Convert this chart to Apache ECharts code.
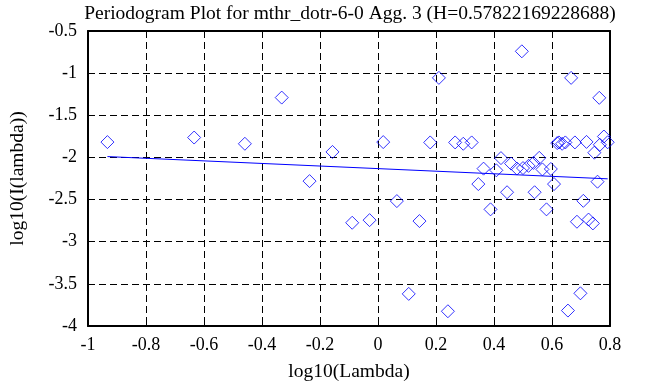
<!DOCTYPE html>
<html>
<head>
<meta charset="utf-8">
<script src="https://cdn.jsdelivr.net/npm/echarts@6/dist/echarts.min.js"></script>
<style>html,body{margin:0;padding:0;background:#fff}#c{width:663px;height:387px}</style>
</head>
<body>
<div id="c"></div>
<script>
const titleText = 'Periodogram Plot for mthr_dotr-6-0 Agg. 3 (H=0.57822169228688)';
const xLabel = 'log10(Lambda)';
const yLabel = 'log10(I(lambda))';
const logLambda = [-0.933,-0.634,-0.459,-0.332,-0.236,-0.157,-0.089,-0.029,0.018,0.065,0.106,0.143,0.180,0.210,0.241,0.266,0.294,0.323,0.346,0.364,0.388,0.408,0.424,0.445,0.459,0.479,0.496,0.500,0.519,0.536,0.540,0.556,0.567,0.581,0.596,0.607,0.618,0.624,0.635,0.646,0.655,0.666,0.679,0.686,0.698,0.708,0.719,0.726,0.741,0.746,0.757,0.763,0.765,0.779,0.792];
const logI = [-1.818,-1.764,-1.838,-1.290,-2.281,-1.935,-2.775,-2.744,-1.818,-2.518,-3.619,-2.755,-1.822,-1.056,-3.825,-1.822,-1.838,-1.822,-2.316,-2.133,-2.616,-2.153,-2.008,-2.413,-2.073,-2.132,-0.741,-2.126,-2.100,-2.065,-2.413,-2.005,-2.142,-2.616,-2.137,-2.316,-1.830,-1.822,-1.838,-1.822,-3.817,-1.056,-1.822,-2.763,-3.612,-2.515,-1.816,-2.737,-2.783,-1.944,-2.288,-1.293,-1.850,-1.752,-1.820];
const fitX = [-0.933, 0.792];
const fitY = [-1.990, -2.254];
const xTicks = {min:-1, max:0.8, interval:0.2};
const yTicks = {min:-4, max:-0.5, interval:0.5};

const font = 'Liberation Serif';
const fmt = v => { const r = Math.round(v*10)/10; return String(r); };
const pts = logLambda.map((x,i)=>[x,logI[i]]);
const fit = fitX.map((x,i)=>[x,fitY[i]]);

const chart = echarts.init(document.getElementById('c'), null, {renderer:'canvas'});
const axisLine = {show:true, onZero:false, lineStyle:{color:'#000', width:2}};
const tick = {show:true, inside:true, length:7, lineStyle:{color:'#000', width:1}};
const split = {show:true, lineStyle:{color:'#000', width:1, type:[7,4]}};
chart.setOption({
  animation:false,
  backgroundColor:'#fff',
  title:{text:titleText, left:345, top:-1, textAlign:'center',
    textStyle:{fontFamily:font, fontSize:19.5, fontWeight:'normal', color:'#000'}},
  grid:{left:82, right:53, top:31, bottom:56, containLabel:false},
  xAxis:[
    {type:'value', min:xTicks.min, max:xTicks.max, interval:xTicks.interval, position:'bottom',
     name:xLabel, nameLocation:'middle', nameGap:36,
     nameTextStyle:{fontFamily:font, fontSize:19.5, color:'#000'},
     axisLine, axisTick:tick, splitLine:split,
     axisLabel:{fontFamily:font, fontSize:18, color:'#000', margin:10, formatter:fmt}},
    {type:'value', min:xTicks.min, max:xTicks.max, interval:xTicks.interval, position:'top',
     axisLine, axisTick:tick, splitLine:{show:false}, axisLabel:{show:false}}
  ],
  yAxis:[
    {type:'value', min:yTicks.min, max:yTicks.max, interval:yTicks.interval, position:'left',
     name:yLabel, nameLocation:'middle', nameGap:60, nameRotate:90,
     nameTextStyle:{fontFamily:font, fontSize:19.5, color:'#000'},
     axisLine, axisTick:tick, splitLine:split,
     axisLabel:{fontFamily:font, fontSize:18, color:'#000', margin:11, formatter:fmt}},
    {type:'value', min:yTicks.min, max:yTicks.max, interval:yTicks.interval, position:'right',
     axisLine, axisTick:tick, splitLine:{show:false}, axisLabel:{show:false}}
  ],
  series:[
    {type:'scatter', data:pts, symbol:'diamond', symbolSize:13,
     itemStyle:{color:'rgba(0,0,0,0)', borderColor:'#0000ff', borderWidth:1}, z:3},
    {type:'line', data:fit, showSymbol:false, symbol:'none',
     lineStyle:{color:'#0000ff', width:1}, z:4}
  ]
});
</script>
</body>
</html>
